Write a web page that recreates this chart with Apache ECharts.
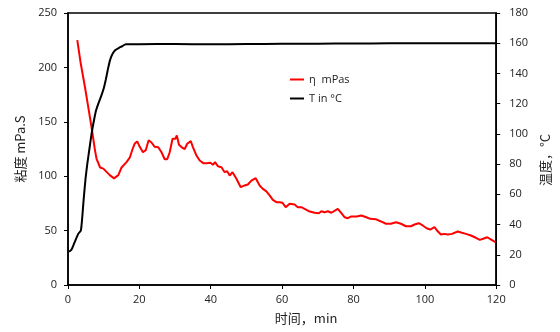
<!DOCTYPE html>
<html>
<head>
<meta charset="utf-8">
<script src="https://cdn.jsdelivr.net/npm/echarts@6/dist/echarts.min.js"></script>
<style>
html,body{margin:0;padding:0;background:#fff;}
#chart{width:560px;height:332px;}
</style>
</head>
<body>
<div id="chart"></div>
<script>
// Time axis ticks
const xTicks = [0, 20, 40, 60, 80, 100, 120];
const leftTicks = [0, 50, 100, 150, 200, 250];
const rightTicks = [0, 20, 40, 60, 80, 100, 120, 140, 160, 180];

// Viscosity series (η mPas) – time (min) and value
const etaTime = [2.6, 3.5, 4.75, 5.7, 6.6, 7.55, 8.0, 9.0, 9.9, 10.8, 11.7, 12.9, 14.1, 15, 16.4, 17.3, 18.1, 18.7, 19.4, 20.1, 21, 21.8, 22.6, 23.4, 24.3, 25.3, 26.2, 27.1, 27.8, 28.5, 29.3, 29.7, 30.1, 30.5, 31.1, 32.1, 32.7, 33.4, 34.4, 35, 36, 36.9, 37.9, 38.9, 39.9, 40.6, 41.2, 42, 43, 43.9, 44.6, 45.3, 46.1, 47.2, 48.4, 49.5, 50.4, 51.4, 52.6, 53.7, 54.6, 55.6, 56.5, 57.4, 58.4, 59.3, 60.1, 61, 62.1, 63.5, 64.4, 65.4, 66.3, 67.5, 69.1, 70.3, 71, 71.9, 72.8, 73.8, 75.6, 76.6, 77.5, 78.4, 79.4, 80.9, 82.2, 83.6, 84.7, 86.2, 87.7, 89.1, 90.5, 91.9, 93.3, 94.7, 96.1, 97.1, 98.3, 99.4, 100.5, 101.5, 102.7, 103.6, 104.5, 105.5, 106.4, 107.6, 109.2, 110.4, 111.5, 112.9, 114.3, 115.4, 116.3, 117.5, 118.7, 119.8];
const etaValues = [225, 205, 182, 163, 145, 124, 116, 108, 107, 104, 101, 98, 101, 108, 113, 117, 125, 130, 132, 127, 122, 124, 133, 131, 127, 126.6, 122, 115.6, 115.6, 122, 134.4, 135.3, 134.4, 137.4, 129, 126, 125, 129.8, 132.2, 126.7, 119, 114.4, 112, 112, 112.3, 110.5, 112.9, 109.2, 108.3, 103.7, 104.6, 100.6, 103.7, 97.6, 89.9, 91.5, 92.4, 96, 98.2, 91.5, 88.4, 86, 82.3, 78.3, 76.1, 76.1, 75.6, 71.5, 74.6, 74, 71.5, 71.5, 70, 67.8, 66.4, 66, 67.8, 66.9, 67.8, 66.4, 70, 66, 62.3, 61.4, 63, 63, 63.9, 62.3, 60.8, 60.5, 58.4, 56.3, 56.3, 57.7, 56.3, 54, 54, 55.6, 56.8, 54.7, 52.2, 51, 53.1, 49.4, 46.4, 47, 46.4, 47, 49.2, 48, 47, 45.5, 43.4, 41.5, 42.5, 43.9, 41.5, 39.3];

// Temperature series (T in °C) – time (min) and value
const tempTime = [0.3, 1, 1.8, 2.9, 3.6, 4.0, 4.4, 4.9, 5.4, 6.0, 6.6, 7.2, 7.8, 8.5, 9.3, 10.0, 10.6, 11.2, 11.8, 12.5, 13.3, 14.3, 15.2, 16.2, 20, 30, 40, 50, 60, 70, 80, 90, 100, 110, 120];
const tempValues = [22, 23.5, 28, 34, 36, 45, 57, 70, 80, 90, 100, 108, 115, 120, 125, 130, 136, 143, 149, 153, 155.5, 157, 158, 159.4, 159.4, 159.5, 159.3, 159.5, 159.6, 159.7, 159.8, 159.9, 159.9, 160, 160];

const etaName = 'η  mPas';
const tempName = 'T in °C';

const etaData = etaTime.map((t, i) => [t, etaValues[i]]);
const tempData = tempTime.map((t, i) => [t, tempValues[i]]);

const labelFont = {fontFamily: 'Open Sans', fontSize: 11, color: '#222'};
const nameFont = {fontFamily: 'Noto Sans CJK SC', fontSize: 13, color: '#222'};

const chart = echarts.init(document.getElementById('chart'), null, {renderer: 'canvas'});
chart.setOption({
  animation: false,
  backgroundColor: '#fff',
  grid: {left: 68, right: 63, top: 13, bottom: 47, show: true, borderColor: '#000', borderWidth: 1.5, backgroundColor: 'transparent'},
  legend: {
    orient: 'vertical', left: 290, top: 74, padding: 0, itemGap: 8,
    itemWidth: 14, itemHeight: 2, icon: 'rect',
    textStyle: {fontFamily: 'Open Sans', fontSize: 11, color: '#222'},
    data: [etaName, tempName]
  },
  xAxis: {
    type: 'value', min: xTicks[0], max: xTicks[xTicks.length - 1], interval: 20,
    name: '时间，min', nameLocation: 'middle', nameGap: 27,
    nameTextStyle: Object.assign({padding: [0, 0, 0, 48]}, nameFont),
    axisLine: {lineStyle: {color: '#000', width: 1.5}},
    axisTick: {show: true, length: 4, inside: false, lineStyle: {color: '#000', width: 1}},
    axisLabel: Object.assign({margin: 9}, labelFont),
    splitLine: {show: false}
  },
  yAxis: [{
    type: 'value', min: leftTicks[0], max: leftTicks[leftTicks.length - 1], interval: 50,
    name: '粘度 mPa.S', nameLocation: 'middle', nameGap: 41, nameRotate: 90,
    nameTextStyle: nameFont,
    axisLine: {show: true, lineStyle: {color: '#000', width: 1.5}},
    axisTick: {show: true, length: 4, lineStyle: {color: '#000', width: 1}},
    axisLabel: Object.assign({margin: 11}, labelFont),
    splitLine: {show: false}
  }, {
    type: 'value', position: 'right', min: rightTicks[0], max: rightTicks[rightTicks.length - 1], interval: 20,
    name: '温度，°C', nameLocation: 'middle', nameGap: 38, nameRotate: 90,
    nameTextStyle: Object.assign({padding: [0, 22, 0, 0]}, nameFont),
    axisLine: {show: true, lineStyle: {color: '#000', width: 1.5}},
    axisTick: {show: true, length: 4, lineStyle: {color: '#000', width: 1}},
    axisLabel: Object.assign({margin: 13}, labelFont),
    splitLine: {show: false}
  }],
  series: [{
    name: etaName, type: 'line', yAxisIndex: 0, data: etaData,
    showSymbol: false, symbol: 'none', smooth: false,
    lineStyle: {color: '#ff0000', width: 2}, itemStyle: {color: '#ff0000'}
  }, {
    name: tempName, type: 'line', yAxisIndex: 1, data: tempData,
    showSymbol: false, symbol: 'none', smooth: 0.2,
    lineStyle: {color: '#000000', width: 2}, itemStyle: {color: '#000000'}
  }]
});
</script>
</body>
</html>
